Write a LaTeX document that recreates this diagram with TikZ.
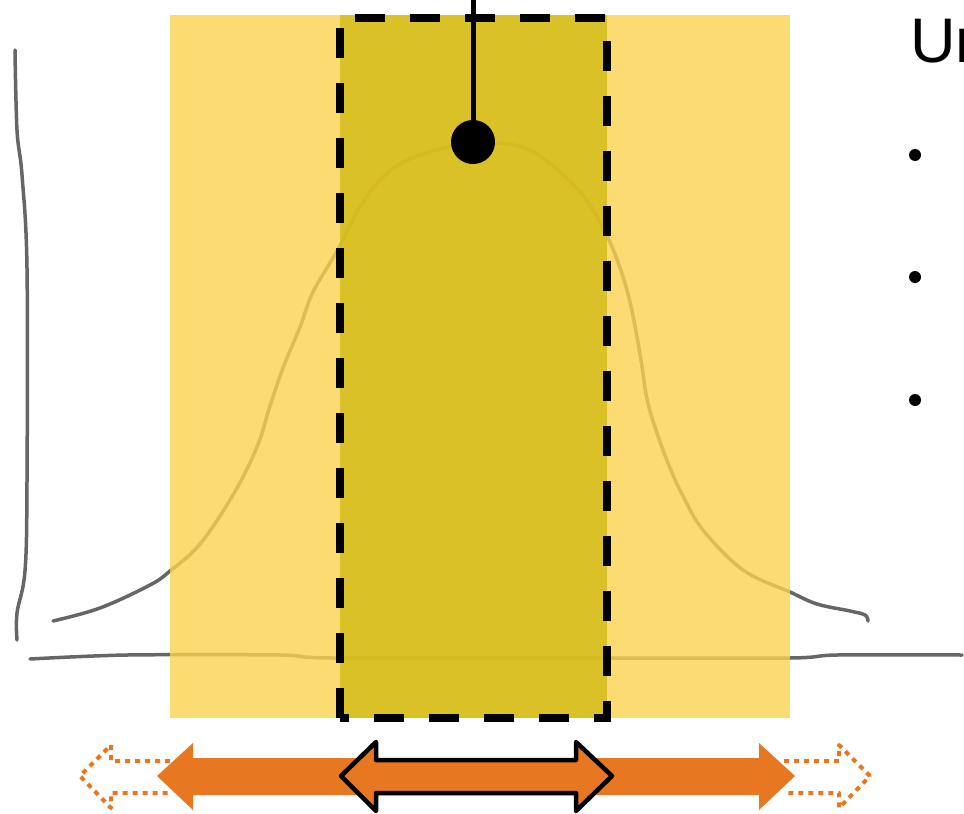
\documentclass[tikz,border=0pt]{standalone}
\usepackage{fontspec}
\setmainfont{Liberation Sans}
\definecolor{lightyel}{RGB}{251,210,80}
\definecolor{darkyel}{RGB}{211,187,20}
\definecolor{orng}{RGB}{232,119,34}
\definecolor{sketch}{RGB}{102,102,102}
\tikzset{
  sketchline/.style={draw=sketch,line width=3.5pt,line cap=round,line join=round},
  bandbox/.style={fill=lightyel,fill opacity=0.8,draw=none},
  corebox/.style={fill=darkyel,fill opacity=0.8,draw=none},
  coreborder/.style={draw=black,line width=8pt,dash pattern=on 30pt off 25pt},
  bulletdot/.style={circle,fill=black,inner sep=0pt,minimum size=12pt},
  meandot/.style={circle,fill=black,inner sep=0pt,minimum size=44pt},
  bigarrow/.style={fill=orng,draw=none},
  innerarrow/.style={fill=orng,draw=black,line width=4.5pt,line join=round},
  dotarrow/.style={draw=orng,line width=4pt,dash pattern=on 5pt off 5pt,line join=round}
}
\begin{document}
\begin{tikzpicture}[x=1pt,y=-1pt]
\useasboundingbox (0,0) rectangle (964,814);
% axes and bell curve (hand-drawn)
\draw[sketchline] plot[smooth,tension=0.6] coordinates {(15,50) (17,130) (22,175) (27,268) (27,482) (25,571) (17,613) (17,640)};
\draw[sketchline] plot[smooth,tension=0.5] coordinates {(30,659) (127,655) (280,655) (333,658) (600,658) (790,658) (837,655) (962,655)};
\draw[sketchline] plot[smooth,tension=0.6] coordinates {(53,621) (100,608) (150,585) (170,571) (200,544) (233,495) (257,447) (270,406) (283,368) (300,327) (313,292) (337,251) (367,196) (400,164) (447,147) (473,143) (500,143) (530,150) (560,172) (585,198) (605,232) (618,262) (630,302) (640,354) (647,399) (657,433) (670,468) (683,496) (703,530) (743,570) (790,592) (817,604) (850,611) (865,615) (868,621)};
% bands
\path[bandbox] (170,15) rectangle (790,718);
\path[corebox] (340,15) rectangle (607,718);
\draw[coreborder] (340,718) -- (340,18) -- (607,18) -- (607,718) -- cycle;
% mean marker
\coordinate (top) at (473,0);
\node[meandot] (mean) at (473,142) {};
\draw[line width=5pt] (top) -- (mean.center);
% title and bullets
\node[anchor=base west,font=\fontsize{63}{70}\selectfont,inner sep=0pt] (title) at (910,62) {Un};
\node[bulletdot] (b1) at (915,155) {};
\node[bulletdot] (b2) at (915,277) {};
\node[bulletdot] (b3) at (915,400) {};
% bottom arrows
\draw[dotarrow] (170,761) -- (111,761) -- (111,745) -- (80,776) -- (111,808) -- (111,793) -- (170,793);
\draw[dotarrow] (784,761) -- (839,761) -- (839,745) -- (870,776) -- (839,808) -- (839,793) -- (784,793);
\path[bigarrow] (157,776) -- (193,743) -- (193,758) -- (759,758) -- (759,743) -- (795,776) -- (759,810) -- (759,795) -- (193,795) -- (193,810) -- cycle;
\draw[innerarrow] (341,776) -- (376,742) -- (376,760) -- (576,760) -- (576,742) -- (612,776) -- (576,811) -- (576,793) -- (376,793) -- (376,811) -- cycle;
\end{tikzpicture}
\end{document}
